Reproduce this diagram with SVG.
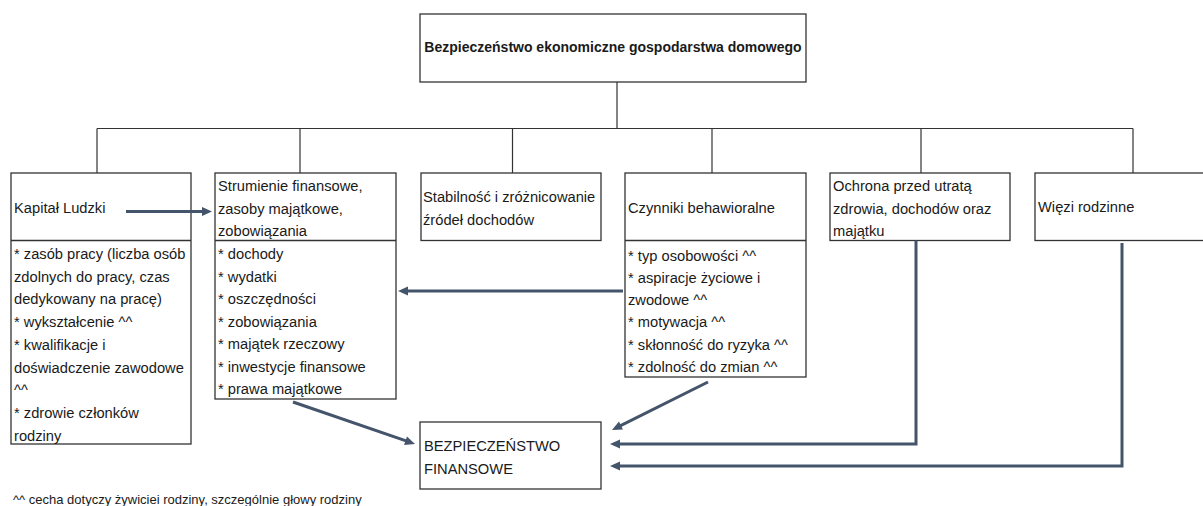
<svg xmlns="http://www.w3.org/2000/svg" width="1203" height="506" viewBox="0 0 1203 506">
<style>
.box{fill:#fff;stroke:#333;stroke-width:1.3}
.div{stroke:#333;stroke-width:1.3}
.tree{stroke:#333;stroke-width:1.2;fill:none}
.t{font-family:"Liberation Sans",Arial,sans-serif;font-size:14.7px;fill:#1a1a1a}
.b{font-weight:bold;font-size:14px}
.f{font-size:13px}
.arr{stroke:#44546A;stroke-width:3;fill:none}
</style>
<defs>
<marker id="ah" markerUnits="userSpaceOnUse" markerWidth="11" markerHeight="10" refX="6" refY="4.5" orient="auto" overflow="visible">
<path d="M0,0 L10,4.5 L0,9 z" fill="#44546A"/>
</marker>
</defs>
<g id="tree">
<line class="tree" x1="617" y1="82" x2="617" y2="128.5"/>
<line class="tree" x1="97" y1="128.5" x2="1133" y2="128.5"/>
<line class="tree" x1="97" y1="128.5" x2="97" y2="173"/>
<line class="tree" x1="300" y1="128.5" x2="300" y2="173"/>
<line class="tree" x1="512.5" y1="128.5" x2="512.5" y2="173"/>
<line class="tree" x1="712" y1="128.5" x2="712" y2="173"/>
<line class="tree" x1="921" y1="128.5" x2="921" y2="173"/>
<line class="tree" x1="1133" y1="128.5" x2="1133" y2="173"/>
</g>
<g id="root">
<rect class="box" x="420" y="14" width="386" height="68"/>
<text class="t b" x="613" y="52" text-anchor="middle">Bezpieczeństwo ekonomiczne gospodarstwa domowego</text>
</g>
<g id="kapital">
<rect class="box" x="11" y="173" width="180" height="271"/>
<line class="div" x1="11" y1="240.5" x2="191" y2="240.5"/>
<text class="t" x="14" y="213">Kapitał Ludzki</text>
<text class="t" x="14" y="259">* zasób pracy (liczba osób</text>
<text class="t" x="14" y="281.7">zdolnych do pracy, czas</text>
<text class="t" x="14" y="304.4">dedykowany na pracę)</text>
<text class="t" x="14" y="327.1">* wykształcenie ^^</text>
<text class="t" x="14" y="349.8">* kwalifikacje i</text>
<text class="t" x="14" y="372.5">doświadczenie zawodowe</text>
<text class="t" x="14" y="395.2">^^</text>
<text class="t" x="14" y="417.9">* zdrowie członków</text>
<text class="t" x="14" y="440.6">rodziny</text>
</g>
<g id="strumienie">
<rect class="box" x="215" y="173" width="181" height="226"/>
<line class="div" x1="215" y1="240.5" x2="396" y2="240.5"/>
<text class="t" x="218" y="191">Strumienie finansowe,</text>
<text class="t" x="218" y="213.5">zasoby majątkowe,</text>
<text class="t" x="218" y="236">zobowiązania</text>
<text class="t" x="218" y="259">* dochody</text>
<text class="t" x="218" y="281.5">* wydatki</text>
<text class="t" x="218" y="304">* oszczędności</text>
<text class="t" x="218" y="326.5">* zobowiązania</text>
<text class="t" x="218" y="349">* majątek rzeczowy</text>
<text class="t" x="218" y="371.5">* inwestycje finansowe</text>
<text class="t" x="218" y="394">* prawa majątkowe</text>
</g>
<g id="stabilnosc">
<rect class="box" x="421" y="173" width="180" height="67.5"/>
<text class="t" x="423" y="202">Stabilność i zróżnicowanie</text>
<text class="t" x="423" y="225">źródeł dochodów</text>
</g>
<g id="czynniki">
<rect class="box" x="625" y="173" width="181" height="204"/>
<line class="div" x1="625" y1="240.5" x2="806" y2="240.5"/>
<text class="t" x="628" y="213">Czynniki behawioralne</text>
<text class="t" x="628" y="260.5">* typ osobowości ^^</text>
<text class="t" x="628" y="282.8">* aspiracje życiowe i</text>
<text class="t" x="628" y="305.1">zwodowe ^^</text>
<text class="t" x="628" y="327.4">* motywacja ^^</text>
<text class="t" x="628" y="349.7">* skłonność do ryzyka ^^</text>
<text class="t" x="628" y="372">* zdolność do zmian ^^</text>
</g>
<g id="ochrona">
<rect class="box" x="830" y="173" width="180" height="67.5"/>
<text class="t" x="833" y="191">Ochrona przed utratą</text>
<text class="t" x="833" y="213.5">zdrowia, dochodów oraz</text>
<text class="t" x="833" y="236">majątku</text>
</g>
<g id="wiezi">
<rect class="box" x="1035" y="173" width="172" height="67.5"/>
<text class="t" x="1038" y="212">Więzi rodzinne</text>
</g>
<g id="bezpieczenstwo">
<rect class="box" x="420" y="422" width="181" height="67"/>
<text class="t" x="424" y="451">BEZPIECZEŃSTWO</text>
<text class="t" x="424" y="473.5">FINANSOWE</text>
</g>
<g id="connectors">
<line class="arr" x1="126" y1="211.5" x2="208" y2="211.5" marker-end="url(#ah)"/>
<line class="arr" x1="623" y1="291" x2="402" y2="291" marker-end="url(#ah)"/>
<line class="arr" x1="293" y1="402" x2="411.2" y2="442.7" marker-end="url(#ah)"/>
<line class="arr" x1="708" y1="382" x2="615.6" y2="428.2" marker-end="url(#ah)"/>
<polyline class="arr" points="916,240.5 916,444 614,444" marker-end="url(#ah)"/>
<polyline class="arr" points="1122,243 1122,466 614,466" marker-end="url(#ah)"/>
</g>
<text class="t f" x="13" y="504">^^ cecha dotyczy żywiciei rodziny, szczególnie głowy rodziny</text>
</svg>
